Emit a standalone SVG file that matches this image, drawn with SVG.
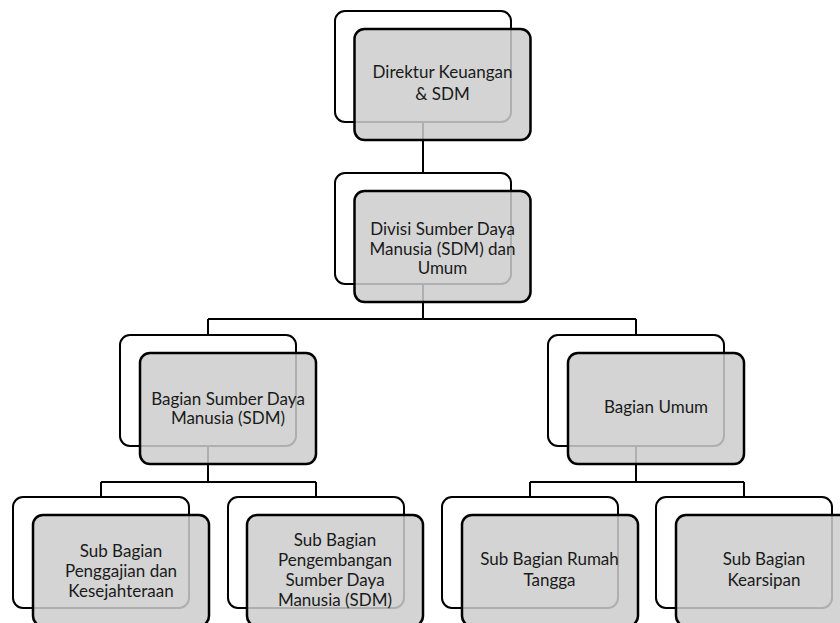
<svg xmlns="http://www.w3.org/2000/svg" width="840" height="623" viewBox="0 0 840 623">
<style>
.back{fill:#ffffff;stroke:#000000;stroke-width:2}
.front{fill:#cdcdcd;fill-opacity:0.855;stroke:#000000;stroke-width:2.5}
.conn{fill:none;stroke:#000000;stroke-width:2}
text{font-family:Lato,"Open Sans",sans-serif;font-size:17px;fill:#1a1a1a;text-anchor:middle}
</style>
<rect width="840" height="623" fill="#ffffff"/>
<g id="connectors">
<path class="conn" d="M423 122V173M423 284V319M208 319H636M208 319V335M636 319V335M208 446V482M101 482H316M101 482V497M316 482V497M636 446V482M530 482H744M530 482V497M744 482V497"/>
</g>
<g id="n1">
<rect class="back" x="335" y="11" width="176" height="111" rx="10"/>
<rect class="front" x="354.5" y="29" width="176" height="111" rx="10"/>
<text x="442.5" y="78">Direktur Keuangan</text>
<text x="442.5" y="100">&amp; SDM</text>
</g>
<g id="n2">
<rect class="back" x="335" y="173" width="176" height="111" rx="10"/>
<rect class="front" x="354.5" y="191" width="176" height="111" rx="10"/>
<text x="442.5" y="235">Divisi Sumber Daya</text>
<text x="442.5" y="254.5">Manusia (SDM) dan</text>
<text x="442.5" y="273.5">Umum</text>
</g>
<g id="n3">
<rect class="back" x="120" y="335" width="176" height="111" rx="10"/>
<rect class="front" x="140" y="353" width="176" height="111" rx="10"/>
<text x="228" y="405">Bagian Sumber Daya</text>
<text x="228" y="424">Manusia (SDM)</text>
</g>
<g id="n4">
<rect class="back" x="548" y="335" width="176" height="111" rx="10"/>
<rect class="front" x="568" y="353" width="176" height="111" rx="10"/>
<text x="656" y="413">Bagian Umum</text>
</g>
<g id="n5">
<rect class="back" x="13" y="497" width="176" height="111" rx="10"/>
<rect class="front" x="33" y="515" width="176" height="111" rx="10"/>
<text x="121" y="557">Sub Bagian</text>
<text x="121" y="577">Penggajian dan</text>
<text x="121" y="597">Kesejahteraan</text>
</g>
<g id="n6">
<rect class="back" x="228" y="497" width="176" height="111" rx="10"/>
<rect class="front" x="247" y="515" width="176" height="111" rx="10"/>
<text x="335" y="546">Sub Bagian</text>
<text x="335" y="566">Pengembangan</text>
<text x="335" y="586">Sumber Daya</text>
<text x="335" y="606">Manusia (SDM)</text>
</g>
<g id="n7">
<rect class="back" x="442" y="497" width="176" height="111" rx="10"/>
<rect class="front" x="462" y="515" width="176" height="111" rx="10"/>
<text x="549.5" y="565">Sub Bagian Rumah</text>
<text x="549.5" y="586">Tangga</text>
</g>
<g id="n8">
<rect class="back" x="656" y="497" width="176" height="111" rx="10"/>
<rect class="front" x="676" y="515" width="176" height="111" rx="10"/>
<text x="764" y="565">Sub Bagian</text>
<text x="764" y="586">Kearsipan</text>
</g>
</svg>
